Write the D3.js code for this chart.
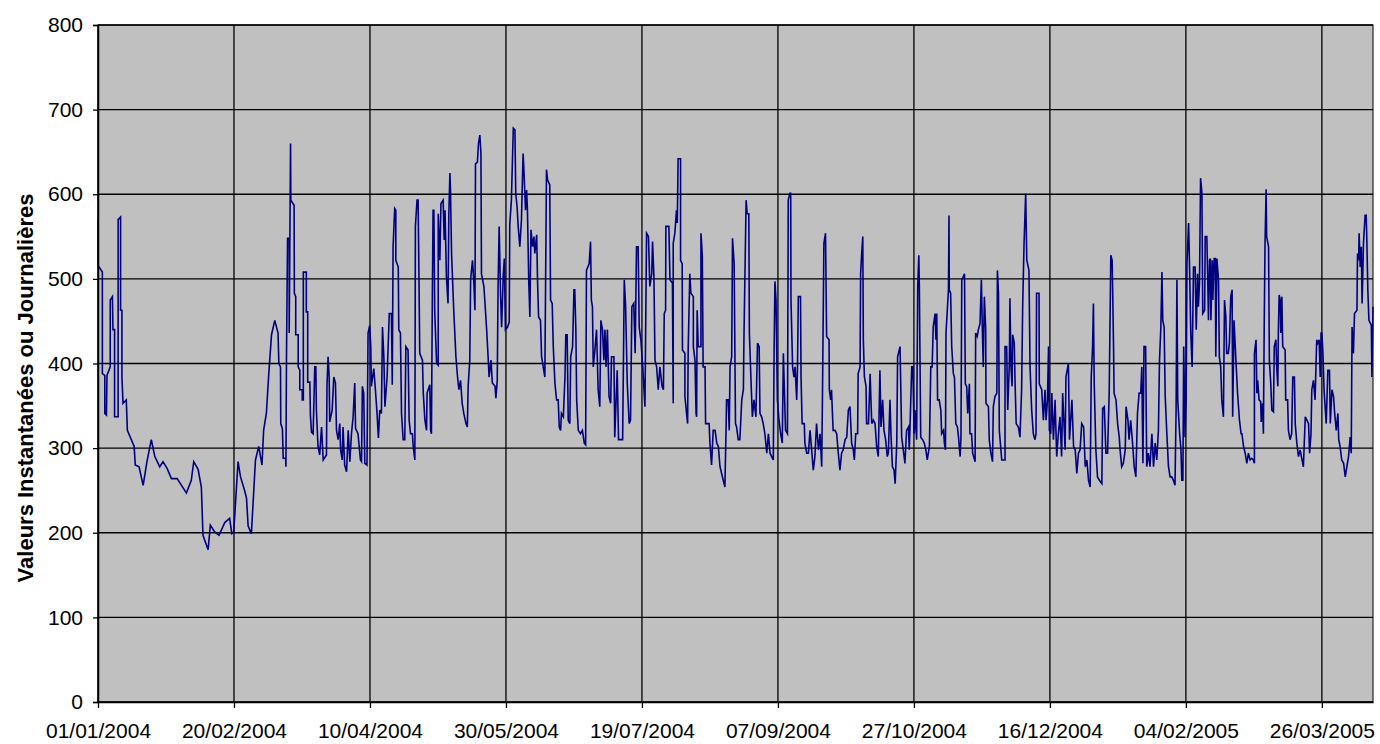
<!DOCTYPE html>
<html>
<head>
<meta charset="utf-8">
<script src="https://cdn.jsdelivr.net/npm/d3@7"></script>
<style>
  body { margin: 0; background: #fff; }
  svg { display: block; font-family: "Liberation Sans", Arial, sans-serif; }
</style>
</head>
<body>
<div id="chart"></div>
<script>
// Débits : jour depuis le 01/01/2004, valeur
const startLabel = "01/01/2004";
const xTickLabels = ["01/01/2004", "20/02/2004", "10/04/2004", "30/05/2004", "19/07/2004",
  "07/09/2004", "27/10/2004", "16/12/2004", "04/02/2005", "26/03/2005"];
const yTicks = [0, 100, 200, 300, 400, 500, 600, 700, 800];
const yLabel = "Valeurs Instantanées ou Journalières";

// janvier - mi-avril 2004
const readingsA = [[0,570],[0,516],[1.6,508],[1.6,388],[2.5,386],[2.5,341],[3.1,339],[3.3,386],[4.5,396],[4.5,475],[5.3,479],[5.5,440],[6.1,440],[6.1,337],[7.4,337],[7.4,570],[8.3,573],[8.3,463],[8.8,463],[8.8,384],[9.2,353],[10.4,357],[10.8,321],[13.3,302],[13.7,280],[15.1,278],[16.6,256],[18.0,284],[19.6,310],[20.9,290],[22.7,278],[23.9,284],[25.4,276],[27.0,264],[29.1,264],[30.7,256],[32.5,247],[34.3,262],[35.2,284],[36.8,275],[38.0,254],[38.6,197],[40.5,180],[41.3,209],[42.9,201],[44.5,197],[46.6,212],[48.4,217],[49.2,199],[49.9,201],[51.5,284],[52.4,266],[53.9,250],[54.6,241],[55.2,208],[56.4,199],[57.9,286],[59.1,302],[60.3,280],[60.9,321],[61.9,341],[62.8,388],[63.8,434],[65.0,451],[66.2,436],[66.5,400],[67.1,396],[67.2,329],[67.8,323],[68.1,288],[69.0,288],[69.1,278],[69.3,406],[69.7,548],[70.3,548],[70.3,436],[70.8,660],[70.9,593],[72.1,587],[72.2,483],[72.7,479],[72.7,434],[73.6,434],[73.6,396],[74.2,392],[74.2,369],[75.1,369],[75.1,357],[75.5,357],[75.5,508],[76.6,508],[76.6,461],[77.1,461],[77.1,378],[77.9,378],[78.1,339],[78.5,319],[79.1,317],[79.7,396],[80.1,396],[80.3,345],[80.9,302],[81.5,292],[82.2,325],[82.8,286],[84.0,292],[84.2,375],[84.6,408],[85.0,384],[85.2,331],[86.1,345],[86.7,384],[87.3,377],[87.7,321],[88.3,310],[88.9,329],[89.2,298],[89.8,286],[90.1,325],[90.7,280],[91.4,272],[92.0,321],[92.6,284],[93.2,317],[93.8,337],[94.4,377],[94.7,323],[95.6,317],[96.5,286],[96.9,284],[97.2,373],[97.7,365],[98.1,282],[98.9,280],[99.3,436],[99.9,445],[100.3,420],[100.5,373],[101.4,394],[102.0,369],[102.6,341],[103.1,312],[103.6,345],[104.2,341],[104.6,443],[105.1,408],[105.5,349],[106.3,384],[107.1,459]];

// mi-avril - fin juillet 2004
const readingsB = [[107.9,459],[108.2,375],[108.5,538],[109.1,583],[109.5,581],[109.5,522],[110.4,514],[110.6,440],[111.2,436],[111.3,412],[111.6,341],[112.2,310],[112.8,310],[113.2,420],[114.0,416],[114.4,333],[114.9,317],[115.6,317],[115.9,302],[116.5,286],[116.7,562],[117.3,593],[117.7,593],[118.0,506],[118.3,412],[119.3,404],[119.6,365],[120.2,333],[120.8,321],[121.0,365],[122.0,375],[122.3,321],[122.6,317],[122.9,463],[123.2,581],[123.5,581],[123.8,463],[124.5,400],[125.1,398],[125.1,577],[125.7,522],[126.1,589],[126.9,593],[127.3,546],[127.6,581],[128.1,503],[128.7,471],[129.0,577],[129.4,625],[129.6,605],[130.0,530],[130.8,463],[131.6,408],[132.2,384],[132.7,369],[133.3,380],[133.9,353],[134.5,341],[135.3,329],[135.8,325],[136.1,373],[136.7,404],[137.0,499],[137.7,522],[138.2,495],[138.6,463],[138.8,636],[139.5,638],[139.9,660],[140.4,670],[140.8,648],[141.0,506],[141.9,491],[142.9,440],[143.5,404],[143.8,384],[144.5,404],[145.0,377],[146.0,373],[146.3,359],[146.8,380],[147.1,491],[147.5,562],[148.0,483],[148.4,443],[149.0,503],[149.4,524],[149.8,440],[150.6,443],[151.2,449],[151.4,564],[152.0,593],[152.7,678],[153.3,676],[153.6,601],[154.1,585],[154.5,562],[155.1,538],[155.7,570],[156.3,648],[156.6,629],[157.2,581],[157.6,605],[157.9,581],[158.4,495],[158.8,455],[159.2,558],[159.8,538],[160.3,550],[160.6,530],[161.3,552],[161.6,499],[162.0,455],[162.7,451],[163.1,408],[163.7,396],[164.3,384],[164.9,629],[165.3,617],[166.1,611],[166.4,475],[167.0,471],[167.4,420],[168.0,377],[168.6,357],[169.2,357],[169.6,325],[170.1,321],[170.4,341],[171.1,337],[171.7,384],[172.0,434],[172.5,434],[172.9,333],[173.5,329],[173.8,408],[174.5,420],[175.0,487],[175.3,487],[175.7,440],[176.0,357],[176.6,321],[177.4,317],[178.1,321],[178.8,306],[179.3,304],[179.6,510],[180.6,518],[181.1,544],[181.4,475],[181.8,467],[182.1,396],[182.7,416],[183.3,440],[183.9,369],[184.5,349],[184.9,451],[185.5,440],[186.0,404],[186.4,440],[186.8,396],[187.3,440],[187.9,361],[188.5,353],[188.8,408],[189.7,408],[190.0,313],[190.9,392],[191.4,310],[191.9,310],[192.9,310],[193.5,499],[194.0,467],[194.6,377],[195.3,329],[195.8,333],[196.3,467],[197.0,471],[197.5,412],[198.0,538],[198.6,538],[199.0,443],[199.6,428],[200.3,396],[201.1,349],[201.7,554],[202.4,550],[202.9,491],[203.6,506],[203.9,544],[204.4,503],[204.8,404],[205.4,396],[206.0,369],[206.6,396],[207.4,373],[207.9,369],[208.2,459],[208.7,463],[208.8,562],[209.9,562],[210.3,499],[211.2,495],[211.5,353]];

// août - mi-novembre 2004
const readingsC = [[211.5,542],[212.1,554],[212.7,581],[213.0,566],[213.3,642],[214.2,642],[214.2,522],[214.8,518],[214.9,416],[215.8,412],[215.8,361],[216.4,341],[216.8,329],[217.0,416],[217.6,506],[218.0,483],[218.9,479],[218.9,420],[219.5,404],[219.9,341],[220.1,337],[220.3,463],[220.7,420],[221.7,420],[221.7,554],[222.2,528],[222.5,396],[223.2,396],[223.4,329],[224.7,329],[225.0,306],[225.6,280],[226.2,321],[226.9,321],[227.5,306],[228.1,302],[228.7,278],[229.3,270],[229.9,262],[230.5,254],[230.9,317],[231.1,357],[231.7,357],[232.1,321],[232.4,396],[233.0,408],[233.3,548],[233.9,518],[234.4,329],[234.8,325],[235.4,310],[236.0,310],[236.7,357],[237.3,369],[237.5,428],[238.3,593],[238.7,577],[239.3,577],[239.5,436],[240.1,380],[240.6,337],[241.2,357],[241.9,337],[242.5,424],[243.1,420],[243.4,341],[244.0,337],[244.6,329],[245.2,317],[245.9,294],[246.5,317],[247.1,294],[247.7,290],[248.3,286],[248.6,416],[248.9,497],[249.3,475],[249.8,357],[250.4,333],[251.0,317],[251.6,306],[252.0,412],[252.4,365],[252.8,321],[253.5,317],[253.8,593],[254.4,601],[254.7,601],[254.8,475],[255.4,396],[255.9,384],[256.3,396],[256.9,357],[257.2,396],[257.5,479],[258.3,479],[258.5,384],[258.9,329],[259.7,329],[259.9,306],[260.6,294],[261.2,294],[261.8,321],[262.4,298],[263.0,274],[263.6,290],[264.2,329],[264.9,298],[265.5,317],[266.1,278],[266.4,369],[266.9,542],[267.5,554],[267.9,432],[268.8,428],[268.9,369],[269.4,357],[269.7,369],[270.3,321],[271.0,321],[271.6,317],[272.2,294],[272.8,274],[273.4,294],[274.0,298],[274.7,310],[275.3,313],[275.9,345],[276.5,349],[277.1,306],[277.7,298],[278.1,286],[278.6,317],[279.3,317],[279.5,388],[280.2,396],[280.4,506],[280.8,530],[281.2,550],[281.4,428],[281.8,384],[282.4,373],[282.6,329],[283.3,329],[283.9,388],[284.2,357],[284.5,329],[285.1,333],[285.7,329],[286.3,302],[286.9,290],[287.5,392],[287.9,325],[288.5,357],[289.0,321],[289.6,310],[290.2,290],[290.6,294],[291.2,357],[291.6,313],[292.1,278],[292.7,274],[293.1,258],[293.7,306],[294.0,408],[294.9,420],[295.5,313],[296.1,298],[296.7,282],[297.3,321],[298.0,325],[298.3,298],[298.6,329],[299.2,396],[299.6,396],[300.1,317],[300.4,345],[301.0,310],[301.4,491],[301.8,528],[302.0,491],[302.5,313],[303.2,310],[303.8,306],[304.4,298],[304.9,286],[305.7,302],[306.2,396],[306.7,396],[307.1,443],[307.8,459],[308.1,428],[308.4,459],[308.7,357],[309.3,357],[309.9,345],[310.2,317],[310.9,321],[311.2,306],[311.6,298],[311.8,436],[312.7,487],[312.9,575],[313.0,487],[313.5,483],[313.9,420],[314.5,388],[314.9,384],[315.4,329],[316.0,325],[316.4,313],[317.0,290]];

// mi-novembre 2004 - février 2005
const readingsD = [[317.3,313],[317.6,499],[318.2,503],[318.6,506],[318.9,376],[319.4,373],[319.8,341],[320.4,376],[320.6,317],[321.2,317],[321.6,294],[322.5,284],[322.7,436],[323.3,432],[323.7,440],[324.3,447],[324.8,499],[325.2,436],[325.5,396],[325.9,479],[326.4,440],[326.5,353],[327.4,349],[327.7,310],[328.3,294],[328.9,284],[329.2,349],[329.8,361],[330.5,365],[330.7,510],[331.1,483],[331.4,321],[332.3,286],[333.5,286],[333.5,420],[334.1,420],[334.5,345],[335.1,400],[335.3,477],[335.7,396],[336.1,373],[336.3,434],[336.9,424],[337.2,377],[337.6,329],[338.4,325],[339.0,313],[339.6,369],[340.0,469],[340.5,542],[341.1,601],[341.5,522],[342.3,510],[342.7,396],[343.3,345],[343.9,317],[344.5,310],[344.9,317],[345.1,483],[346.0,483],[346.1,376],[347.0,369],[347.6,333],[348.2,369],[348.6,333],[349.1,357],[349.5,420],[349.8,321],[350.3,317],[350.7,365],[351.3,310],[351.9,357],[352.5,290],[353.1,317],[353.7,337],[354.3,290],[354.7,365],[355.6,298],[355.9,384],[356.8,400],[357.2,310],[358.1,357],[358.7,302],[359.3,298],[359.9,270],[360.5,294],[361.1,298],[361.7,329],[362.4,325],[363.0,278],[363.6,286],[364.2,262],[364.8,254],[365.2,384],[365.7,420],[366.0,471],[366.3,376],[366.9,298],[367.5,266],[368.2,262],[369.1,258],[369.4,347],[370.0,349],[370.6,294],[371.2,294],[371.8,365],[372.4,528],[372.9,522],[373.4,420],[373.6,365],[374.3,357],[374.9,329],[375.5,313],[375.8,298],[376.4,278],[377.0,282],[377.7,298],[378.0,349],[378.7,333],[379.1,310],[379.7,333],[380.3,310],[381.0,278],[381.6,266],[382.2,341],[382.8,365],[383.4,365],[383.8,396],[384.2,282],[384.6,420],[385.2,420],[385.6,278],[386.2,294],[386.8,278],[387.5,317],[388.1,278],[388.7,306],[389.3,286],[389.9,321],[390.3,404],[390.8,443],[391.2,508],[391.5,451],[392.0,443],[392.4,361],[393.0,317],[393.6,278],[394.2,266],[394.8,266],[395.4,262],[396.0,256],[396.4,345],[396.7,499],[397.0,357],[397.7,317],[398.2,298],[398.5,262],[398.9,262],[399.2,420],[399.5,357],[399.7,313],[400.1,357],[400.4,518],[401.0,566],[401.3,522],[401.8,436],[402.3,396],[402.8,514],[403.4,514],[403.8,440],[404.3,506],[404.6,467],[405.0,495],[405.4,619],[405.9,601],[406.2,459],[406.9,463],[407.1,550],[407.7,550],[408.0,506],[408.3,451],[408.7,522],[409.0,524],[409.2,451],[409.7,522],[409.9,475],[410.4,524],[410.8,524],[411.0,408],[411.4,524],[412.0,499],[412.3,408],[412.8,396],[413.2,357],[413.8,337],[414.2,475],[414.7,455],[415.0,412],[415.6,412],[416.0,424],[416.5,479],[417.0,487],[417.2,337],[417.7,451],[418.4,404],[419.0,365],[419.7,333],[420.3,317]];

// février - avril 2005
const readingsE = [[420.6,317],[421.2,302],[421.8,294],[422.4,282],[423.0,294],[423.6,286],[424.2,288],[424.8,286],[425.2,282],[425.2,412],[425.8,428],[426.1,365],[426.4,380],[426.9,357],[427.5,355],[427.7,331],[428.2,353],[428.5,317],[428.8,443],[429.1,542],[429.5,606],[429.7,550],[430.4,538],[430.7,404],[431.2,377],[431.6,345],[432.2,343],[432.5,420],[433.1,428],[433.4,396],[433.8,373],[434.0,436],[434.3,481],[434.7,475],[434.9,436],[435.3,479],[435.6,420],[436.5,416],[436.7,357],[437.4,357],[437.7,321],[438.3,310],[438.9,317],[439.3,384],[439.9,384],[440.2,329],[440.8,306],[441.4,290],[442.0,298],[442.6,288],[443.2,278],[443.9,337],[444.5,333],[445.1,329],[445.5,294],[446.0,317],[446.3,369],[446.9,380],[447.5,357],[448.1,428],[448.5,424],[449.0,428],[449.4,384],[449.7,436],[450.0,436],[450.4,412],[450.8,369],[451.6,329],[452.2,392],[452.8,392],[453.1,329],[453.7,369],[454.3,361],[454.7,341],[455.3,321],[455.9,341],[456.2,310],[456.7,302],[457.3,286],[458.0,282],[458.6,266],[459.2,278],[459.8,290],[460.4,313],[460.8,294],[461.1,443],[461.6,412],[462.0,459],[462.9,463],[463.1,530],[463.5,522],[463.7,554],[464.1,514],[464.5,538],[464.8,471],[465.3,542],[465.9,575],[466.3,575],[466.5,550],[466.9,487],[467.3,451],[467.9,447],[468.2,445],[468.4,384],[468.8,467]];

const readings = [...readingsA, ...readingsB, ...readingsC, ...readingsD, ...readingsE];

const width = 1380;
const height = 744;
const margin = { top: 25, right: 7, bottom: 42, left: 98 };

const parseDate = d3.utcParse("%d/%m/%Y");
const formatDate = d3.utcFormat("%d/%m/%Y");
const start = parseDate(startLabel);
const dayToDate = (d) => new Date(start.getTime() + d * 864e5);

const x = d3.scaleUtc()
  .domain([start, dayToDate(d3.max(readings, (d) => d[0]))])
  .range([margin.left, width - margin.right]);

const y = d3.scaleLinear()
  .domain([0, 800])
  .range([height - margin.bottom, margin.top]);

const svg = d3.select("#chart")
  .append("svg")
  .attr("width", width)
  .attr("height", height);

// zone de tracé grise
svg.append("rect")
  .attr("x", margin.left)
  .attr("y", margin.top)
  .attr("width", width - margin.left - margin.right)
  .attr("height", height - margin.top - margin.bottom)
  .attr("fill", "#c0c0c0")
  .attr("stroke", "#000")
  .attr("stroke-width", 1);

const xTickDates = xTickLabels.map(parseDate);

// quadrillage
svg.append("g")
  .selectAll("line")
  .data(yTicks)
  .join("line")
  .attr("x1", margin.left)
  .attr("x2", width - margin.right)
  .attr("y1", (d) => y(d))
  .attr("y2", (d) => y(d))
  .attr("stroke", "#000")
  .attr("stroke-width", 1.3);

svg.append("g")
  .selectAll("line")
  .data(xTickDates)
  .join("line")
  .attr("x1", (d) => x(d))
  .attr("x2", (d) => x(d))
  .attr("y1", margin.top)
  .attr("y2", height - margin.bottom)
  .attr("stroke", "#000")
  .attr("stroke-width", 1.3);

// série
const line = d3.line()
  .x((d) => x(dayToDate(d[0])))
  .y((d) => y(d[1]));

svg.append("path")
  .datum(readings)
  .attr("fill", "none")
  .attr("stroke", "#000080")
  .attr("stroke-width", 1.6)
  .attr("stroke-linejoin", "miter")
  .attr("d", line);

// axes
const yAxis = svg.append("g")
  .attr("transform", `translate(${margin.left},0)`)
  .call(d3.axisLeft(y).tickValues(yTicks).tickSize(5).tickPadding(10));

const xAxis = svg.append("g")
  .attr("transform", `translate(0,${height - margin.bottom})`)
  .call(d3.axisBottom(x).tickValues(xTickDates).tickFormat(formatDate)
    .tickSize(6).tickPadding(15).tickSizeOuter(0));

yAxis.select(".domain").attr("stroke", "#000").attr("stroke-width", 1.5);
xAxis.select(".domain").attr("stroke", "#000").attr("stroke-width", 1.5);
svg.selectAll(".tick line").attr("stroke", "#000").attr("stroke-width", 1.3);
svg.selectAll(".tick text")
  .style("font-size", "21px")
  .style("font-family", "'Liberation Sans', Arial, sans-serif")
  .attr("fill", "#000");

svg.append("text")
  .attr("transform", "rotate(-90)")
  .attr("x", -388)
  .attr("y", 33)
  .attr("text-anchor", "middle")
  .style("font-size", "22px")
  .style("font-weight", "bold")
  .attr("fill", "#000")
  .text(yLabel);
</script>
</body>
</html>
